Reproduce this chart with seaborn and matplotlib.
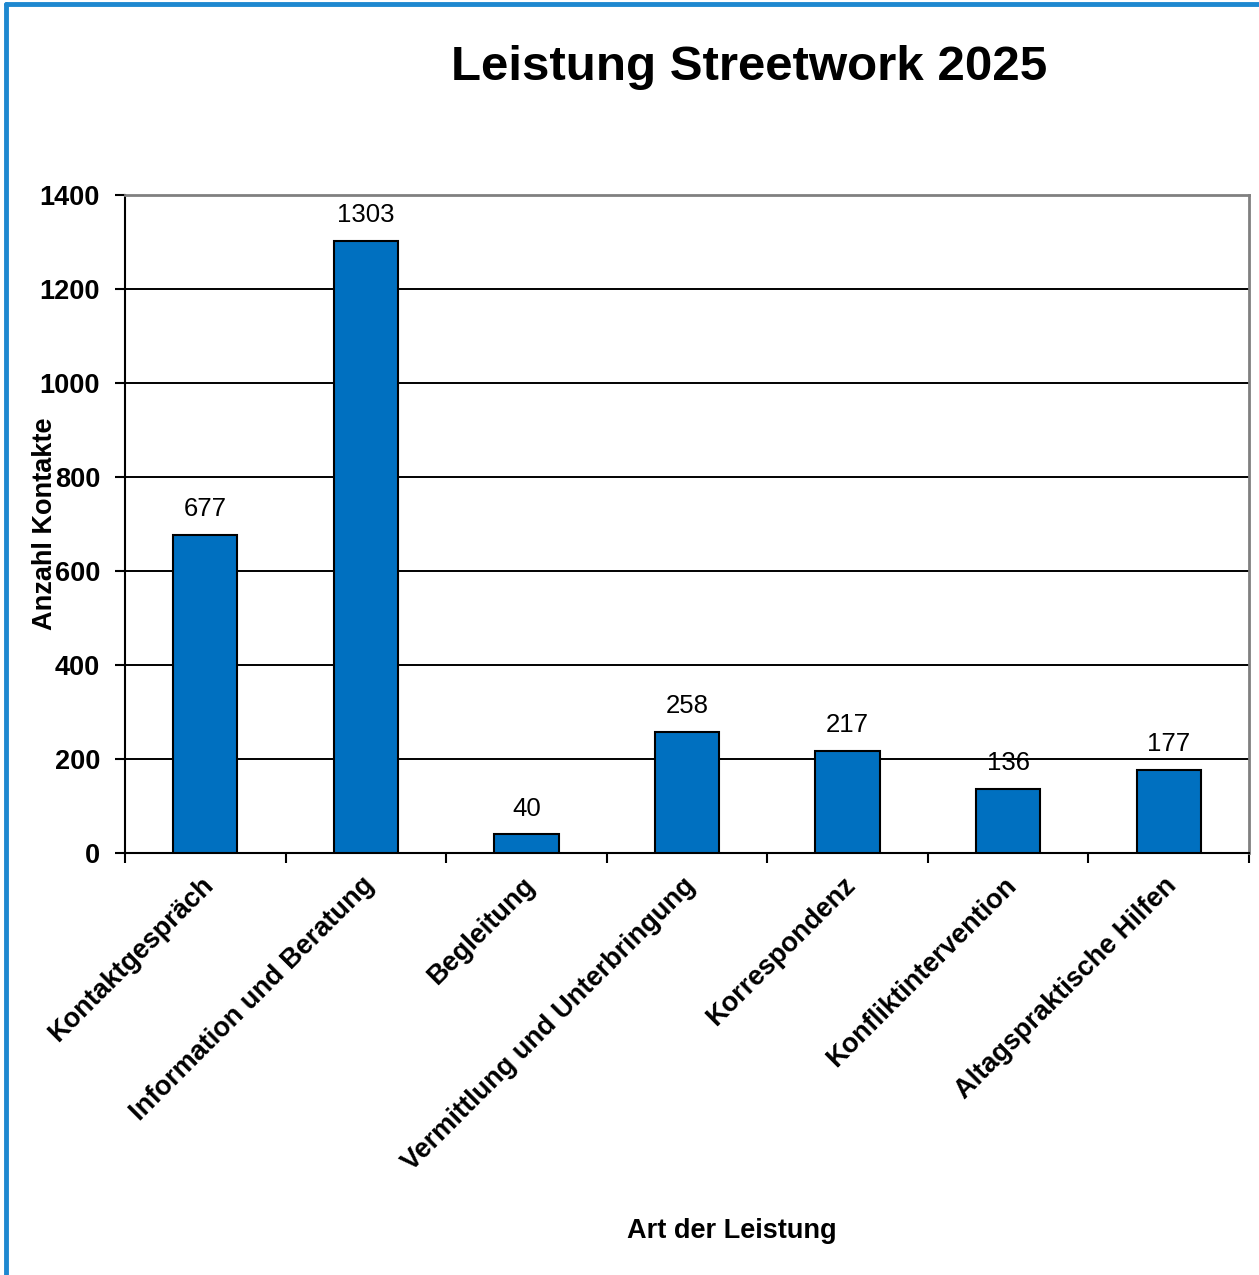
import pandas as pd
import matplotlib.pyplot as plt
import matplotlib.transforms as mtransforms
import seaborn as sns
from matplotlib.lines import Line2D

# Daten
kategorien = ['Kontaktgespräch', 'Information und Beratung', 'Begleitung',
              'Vermittlung und Unterbringung', 'Korrespondenz',
              'Konfliktintervention', 'Altagspraktische Hilfen']
anzahl = [677, 1303, 40, 258, 217, 136, 177]
y_ticks = [0, 200, 400, 600, 800, 1000, 1200, 1400]

data = pd.DataFrame({'Art': kategorien, 'Anzahl': anzahl})

sns.set_style('white')
plt.rcParams['font.family'] = ['Liberation Sans', 'DejaVu Sans']
plt.rcParams['text.color'] = 'black'
plt.rcParams['axes.labelcolor'] = 'black'
plt.rcParams['xtick.color'] = 'black'
plt.rcParams['ytick.color'] = 'black'

fig = plt.figure(figsize=(12.59, 12.75), dpi=100)
ax = fig.add_axes([0.0993, 0.331, 0.8927, 0.516])

sns.barplot(x='Art', y='Anzahl', data=data, color='#0070C0', saturation=1,
            width=0.4, edgecolor='black', linewidth=1.5, ax=ax, zorder=3)

ax.set_xlim(-0.5, len(kategorien) - 0.5)
ax.set_ylim(0, 1400)
ax.set_yticks(y_ticks)
ax.set_yticklabels([str(t) for t in y_ticks], fontsize=19.5, fontweight='bold')

# Gitterlinien
ax.yaxis.grid(True, color='black', linewidth=1.4, zorder=1)
ax.set_axisbelow(True)

# Rahmen
ax.spines['left'].set_color('black')
ax.spines['bottom'].set_color('black')
ax.spines['left'].set_linewidth(1.5)
ax.spines['bottom'].set_linewidth(1.5)
ax.spines['top'].set_color('#808080')
ax.spines['right'].set_color('#808080')
ax.spines['top'].set_linewidth(2)
ax.spines['right'].set_linewidth(2)
ax.spines['top'].set_zorder(5)

# Ticks auf der x-Achse zwischen den Kategorien
ax.set_xticks([i - 0.5 for i in range(len(kategorien) + 1)], minor=False)
ax.set_xticklabels([])
ax.set_xticks(range(len(kategorien)), minor=True)
ax.set_xticklabels(kategorien, minor=True, rotation=45, ha='right',
                   rotation_mode='anchor', fontsize=19.5, fontweight='bold')
ax.tick_params(axis='x', which='major', direction='out', length=7, width=1.5,
               color='black', bottom=True)
ax.tick_params(axis='x', which='minor', length=0, pad=14)
ax.tick_params(axis='y', direction='out', length=7, width=1.5, color='black',
               left=True, pad=11)

verschiebung = mtransforms.ScaledTranslation(-5 / 100, 0, fig.dpi_scale_trans)
for lbl in ax.get_xticklabels(minor=True):
    lbl.set_transform(lbl.get_transform() + verschiebung)

# Werte über den Balken
for i, v in enumerate(anzahl):
    ax.text(i, v + 29, str(v), ha='center', va='bottom', fontsize=18.5)

ax.set_ylabel('Anzahl Kontakte', fontsize=19.5, fontweight='bold')
ax.yaxis.set_label_coords(-0.06, 0.5)
ax.set_xlabel('Art der Leistung', fontsize=19.5, fontweight='bold')
ax.xaxis.set_label_coords(0.54, -0.555)

fig.text(0.595, 1 - 67 / 1275, 'Leistung Streetwork 2025', ha='center',
         va='center', fontsize=35.5, fontweight='bold')

# blauer Rahmen links und oben
rand = '#1E88D0'
fig.add_artist(Line2D([0.0045, 0.0045], [0, 0.9965], transform=fig.transFigure,
                      color=rand, linewidth=3.5))
fig.add_artist(Line2D([0.0045, 1], [0.9965, 0.9965], transform=fig.transFigure,
                      color=rand, linewidth=3.5))

fig.savefig('out.png', dpi=100)
